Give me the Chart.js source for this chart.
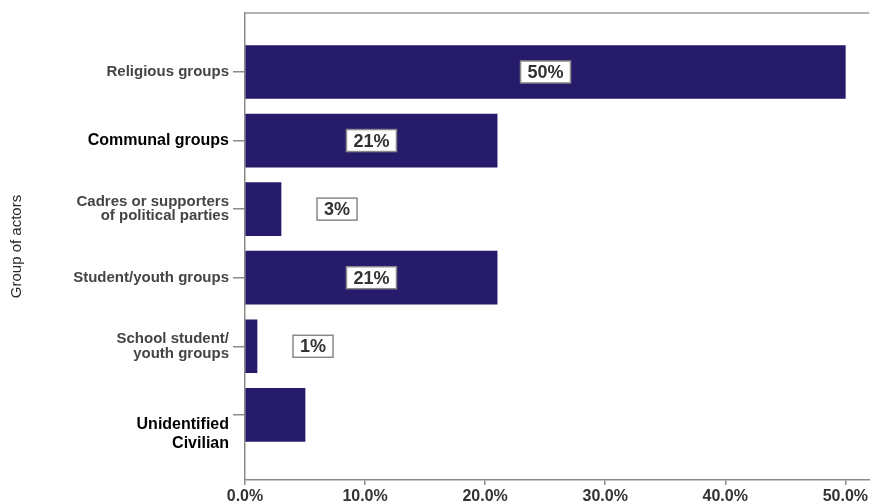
<!DOCTYPE html>
<html>
<head>
<meta charset="utf-8">
<script src="https://cdn.jsdelivr.net/npm/chart.js@4.4.0/dist/chart.umd.min.js"></script>
<style>
  html, body { margin: 0; padding: 0; background: #fff; }
  #wrap { width: 870px; height: 502px; }
</style>
</head>
<body>
<div id="wrap"><canvas id="actorsChart" width="870" height="502"></canvas></div>
<script>
// actor groups, top to bottom (two blank lines push the last name under its tick)
const actors = [
  'Religious groups',
  'Communal groups',
  ['Cadres or supporters', 'of political parties'],
  'Student/youth groups',
  ['School student/', 'youth groups'],
  ['', '', 'Unidentified', 'Civilian']
];
const shares = [50, 21, 3, 21, 1, 5];
const shareLabels = ['50%', '21%', '3%', '21%', '1%', ''];
const xTicks = [0, 10, 20, 30, 40, 50];
// these two names are set in bigger black type
const darkLabels = [1, 5];

const FONT = '"Liberation Sans", Arial, Helvetica, sans-serif';
const AXIS = '#8a8a8a';

// white boxes with the percentage + the top frame line
const valueBoxes = {
  id: 'valueBoxes',
  afterDatasetsDraw(chart) {
    const { ctx, chartArea } = chart;
    ctx.save();
    ctx.strokeStyle = '#9a9a9a';
    ctx.lineWidth = 1.5;
    ctx.beginPath();
    ctx.moveTo(chartArea.left, chartArea.top);
    ctx.lineTo(chartArea.right, chartArea.top);
    ctx.stroke();

    ctx.font = 'bold 18px ' + FONT;
    ctx.textAlign = 'center';
    ctx.textBaseline = 'middle';
    chart.getDatasetMeta(0).data.forEach((bar, i) => {
      const txt = shareLabels[i];
      if (!txt) return;
      const w = ctx.measureText(txt).width + 14;
      const h = 22;
      const len = bar.x - bar.base;
      const cx = len > 60 ? bar.base + len / 2 : bar.x + 36 + w / 2;
      ctx.fillStyle = '#fff';
      ctx.fillRect(cx - w / 2, bar.y - h / 2, w, h);
      ctx.strokeStyle = '#888';
      ctx.lineWidth = 1.5;
      ctx.strokeRect(cx - w / 2, bar.y - h / 2, w, h);
      ctx.fillStyle = '#333';
      ctx.fillText(txt, cx, bar.y + 1);
    });
    ctx.restore();
  }
};

new Chart(document.getElementById('actorsChart'), {
  type: 'bar',
  data: {
    datasets: [{
      data: shares.map((v, i) => ({ x: v, y: i })),
      backgroundColor: '#261a6b',
      borderWidth: 0,
      barThickness: 53
    }]
  },
  options: {
    indexAxis: 'y',
    responsive: false,
    animation: false,
    layout: { padding: { top: 13, right: 0, left: 0, bottom: 0 } },
    plugins: { legend: { display: false }, tooltip: { enabled: false } },
    scales: {
      y: {
        type: 'linear',
        reverse: true,
        offset: false,
        min: -0.86,
        max: 5.95,
        afterBuildTicks: scale => { scale.ticks = actors.map((_, i) => ({ value: i })); },
        afterFit: scale => {
          scale.width = 245;
          scale.paddingTop = 0;
          scale.paddingBottom = 0;
        },
        ticks: {
          padding: 4,
          callback: v => actors[v],
          color: c => darkLabels.includes(c.index) ? '#000' : '#454545',
          font: c => darkLabels.includes(c.index)
            ? { family: FONT, weight: 'bold', size: 16, lineHeight: 1.2 }
            : { family: FONT, weight: 'bold', size: 15, lineHeight: 0.95 }
        },
        grid: { offset: false, drawOnChartArea: false, color: AXIS, tickLength: 12, lineWidth: 1.5 },
        border: { color: AXIS, width: 1.5 },
        title: {
          display: true,
          text: 'Group of actors',
          color: '#2a2a2a',
          font: { family: FONT, size: 15 },
          padding: { top: 8, bottom: 0 }
        }
      },
      x: {
        type: 'linear',
        min: 0,
        max: 52,
        afterBuildTicks: scale => { scale.ticks = xTicks.map(v => ({ value: v })); },
        afterFit: scale => { scale.height = 22; },
        ticks: {
          padding: 2,
          maxRotation: 0,
          color: '#333',
          font: { family: FONT, weight: 'bold', size: 16 },
          callback: v => v.toFixed(1) + '%'
        },
        grid: { drawOnChartArea: false, color: AXIS, tickLength: 5, lineWidth: 1.5 },
        border: { color: AXIS, width: 1.5 }
      }
    }
  },
  plugins: [valueBoxes]
});
</script>
</body>
</html>
